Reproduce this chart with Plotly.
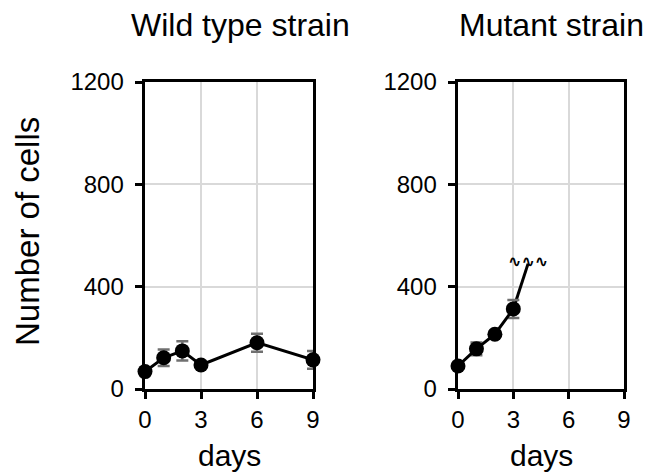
import plotly.graph_objects as go

# ---- data ----
days = [0, 1, 2, 3, 6, 9]
wild_cells = [68, 122, 149, 94, 181, 114]
wild_err = [10, 32, 38, 8, 35, 35]

mut_days = [0, 1, 2, 3]
mut_cells = [90, 157, 214, 313]
mut_err = [10, 25, 12, 35]
mut_break_day = 3.8      # line continues off-scale
mut_break_cells = 490

x_ticks = [0, 3, 6, 9]
y_ticks = [0, 400, 800, 1200]
panel_titles = ["Wild type strain", "Mutant strain"]
x_title = "days"
y_title = "Number of cells"

FONT = "Liberation Sans, Arial, sans-serif"
W, H = 646, 474

fig = go.Figure()

err_style = dict(color="#707070", thickness=2.5, width=6)
mk = dict(color="black", size=15)
ln = dict(color="black", width=3)

fig.add_trace(go.Scatter(x=days, y=wild_cells, mode="lines+markers",
                         error_y=dict(type="data", array=wild_err, **err_style),
                         marker=mk, line=ln, cliponaxis=False,
                         xaxis="x", yaxis="y", showlegend=False))
fig.add_trace(go.Scatter(x=[mut_days[-1], mut_break_day], y=[mut_cells[-1], mut_break_cells],
                         mode="lines", line=ln, cliponaxis=False,
                         xaxis="x2", yaxis="y2", showlegend=False))
fig.add_trace(go.Scatter(x=mut_days, y=mut_cells, mode="lines+markers",
                         error_y=dict(type="data", array=mut_err, **err_style),
                         marker=mk, line=ln, cliponaxis=False,
                         xaxis="x2", yaxis="y2", showlegend=False))

def px_x(p):
    return p / W

def px_y(p):
    return (H - p) / H

ydom = [px_y(389), px_y(82)]
ax_common = dict(showline=True, linecolor="black", linewidth=2.5, mirror=True,
                 showgrid=True, gridcolor="#d9d9d9", gridwidth=2,
                 ticks="outside", ticklen=7, tickwidth=2.5, tickcolor="black",
                 tickfont=dict(family=FONT, size=24, color="black"),
                 zeroline=False, fixedrange=True, automargin=False)
y_ticktext = [f"{v}\u00a0" for v in y_ticks]
xax = dict(tickvals=x_ticks, range=[0, 9], **ax_common)
yax = dict(tickvals=y_ticks, ticktext=y_ticktext, range=[0, 1200], **ax_common)

fig.update_layout(
    width=W, height=H,
    margin=dict(l=0, r=0, t=0, b=0, pad=0, autoexpand=False),
    paper_bgcolor="white", plot_bgcolor="white",
    font=dict(family=FONT, color="black"),
    xaxis=dict(domain=[px_x(145), px_x(313)], anchor="y", **xax),
    yaxis=dict(domain=ydom, anchor="x", **yax),
    xaxis2=dict(domain=[px_x(458), px_x(624)], anchor="y2", **xax),
    yaxis2=dict(domain=ydom, anchor="x2", **yax),
)

ann = []
for cx, t in [(241, panel_titles[0]), (551, panel_titles[1])]:
    ann.append(dict(x=px_x(cx), y=px_y(25), xref="paper", yref="paper", text=t,
                    showarrow=False, xanchor="center", yanchor="middle",
                    font=dict(family=FONT, size=32, color="black")))
for cx in [229, 541]:
    ann.append(dict(x=px_x(cx), y=px_y(455), xref="paper", yref="paper", text=x_title,
                    showarrow=False, xanchor="center", yanchor="middle",
                    font=dict(family=FONT, size=30, color="black")))
ann.append(dict(x=px_x(27), y=px_y(232), xref="paper", yref="paper", text=y_title,
                textangle=-90, showarrow=False, xanchor="center", yanchor="middle",
                font=dict(family=FONT, size=33, color="black")))
# break symbol at the end of the mutant line
ann.append(dict(x=3.8, y=497, xref="x2", yref="y2", text="<b>∿∿∿</b>", showarrow=False,
                xanchor="center", yanchor="middle",
                font=dict(family="DejaVu Sans", size=16, color="black")))
fig.update_layout(annotations=ann)

fig.write_html("out.html")
